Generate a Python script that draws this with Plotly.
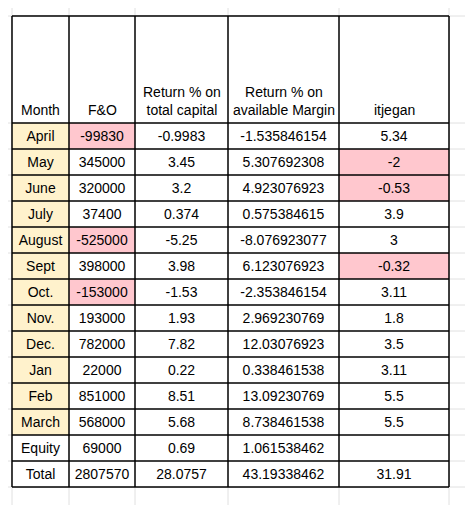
import plotly.graph_objects as go

months = ["April", "May", "June", "July", "August", "Sept", "Oct.", "Nov.", "Dec.",
          "Jan", "Feb", "March", "Equity", "Total"]
fno = ["-99830", "345000", "320000", "37400", "-525000", "398000", "-153000", "193000",
       "782000", "22000", "851000", "568000", "69000", "2807570"]
ret_total = ["-0.9983", "3.45", "3.2", "0.374", "-5.25", "3.98", "-1.53", "1.93", "7.82",
             "0.22", "8.51", "5.68", "0.69", "28.0757"]
ret_margin = ["-1.535846154", "5.307692308", "4.923076923", "0.575384615", "-8.076923077",
              "6.123076923", "-2.353846154", "2.969230769", "12.03076923", "0.338461538",
              "13.09230769", "8.738461538", "1.061538462", "43.19338462"]
itjegan = ["5.34", "-2", "-0.53", "3.9", "3", "-0.32", "3.11", "1.8", "3.5", "3.11",
           "5.5", "5.5", "", "31.91"]
headers = ["Month", "F&O", "Return % on<br>total capital", "Return % on<br>available Margin", "itjegan"]
pink_fno = {"April", "August", "Oct."}
pink_itj = {"May", "June", "Sept"}

cols = [12, 69, 135, 228, 339, 449]
top, head_bot, row_h = 16, 123, 26
YEL, PINK = "#FFF2CC", "#FFC7CE"
off = 8  # page body margin

shapes = []
# faint spreadsheet grid outside table
for x in cols + [470]:
    shapes.append(dict(type="line", x0=x, x1=x, y0=-10, y1=520, line=dict(color="#E0E0E0", width=1), layer="below"))
for i in range(0, 16):
    y = head_bot + i * row_h
    shapes.append(dict(type="line", x0=-10, x1=490, y0=y, y1=y, line=dict(color="#E0E0E0", width=1), layer="below"))
shapes.append(dict(type="line", x0=-10, x1=490, y0=top, y1=top, line=dict(color="#E0E0E0", width=1), layer="below"))
# white table body
bot = head_bot + len(months) * row_h
shapes.append(dict(type="rect", x0=cols[0], x1=cols[-1], y0=top, y1=bot, fillcolor="white", line=dict(width=0), layer="below"))

for r, m in enumerate(months):
    y0 = head_bot + r * row_h
    fills = [YEL if m not in ("Equity", "Total") else None,
             PINK if m in pink_fno else None, None, None,
             PINK if m in pink_itj else None]
    for c, f in enumerate(fills):
        if f:
            shapes.append(dict(type="rect", x0=cols[c], x1=cols[c + 1], y0=y0, y1=y0 + row_h,
                               fillcolor=f, line=dict(width=0), layer="below"))
# black borders
for x in cols:
    shapes.append(dict(type="line", x0=x, x1=x, y0=top, y1=bot, line=dict(color="black", width=1.5)))
for y in [top, head_bot] + [head_bot + (i + 1) * row_h for i in range(len(months))]:
    shapes.append(dict(type="line", x0=cols[0], x1=cols[-1], y0=y, y1=y, line=dict(color="black", width=1.5)))

fig = go.Figure()
font = dict(family="Liberation Sans, Arial", size=14, color="black")
cx = [(cols[i] + cols[i + 1]) / 2 for i in range(5)]
ys = [head_bot + (r + 0.5) * row_h + 1 for r in range(len(months))]
for c, vals in enumerate([months, fno, ret_total, ret_margin, itjegan]):
    fig.add_trace(go.Scatter(x=[cx[c]] * len(vals), y=ys, text=vals, mode="text",
                             textfont=font, hoverinfo="skip", showlegend=False))
for c, h in enumerate(headers):
    fig.add_annotation(x=cx[c], y=head_bot - 3, text=h, showarrow=False, yanchor="bottom",
                       font=font, align="center")

fig.update_layout(width=473, height=505, margin=dict(l=0, r=0, t=0, b=0),
                  plot_bgcolor="white", paper_bgcolor="white", shapes=shapes,
                  xaxis=dict(range=[off, 473 + off], visible=False, fixedrange=True),
                  yaxis=dict(range=[505 + off, off], visible=False, fixedrange=True))
fig.write_html("out.html")
